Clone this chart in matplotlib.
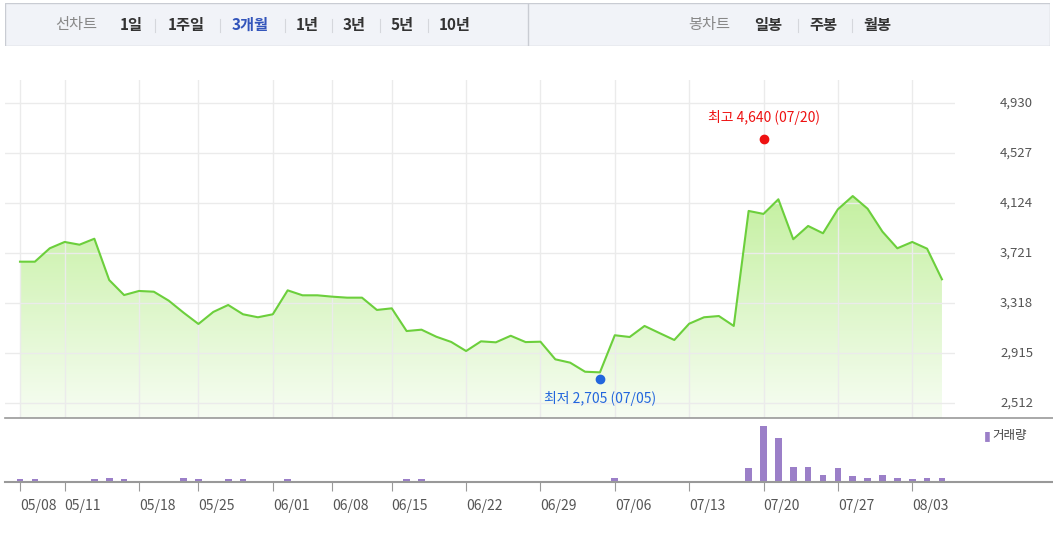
import matplotlib
matplotlib.use('Agg')
import matplotlib.pyplot as plt
import numpy as np
from matplotlib.patches import Rectangle, Polygon

plt.rcParams['font.family'] = ['Noto Sans CJK KR', 'DejaVu Sans']

# Close prices, one per trading day (05/08 .. 08/04)
prices = [3651, 3651, 3759, 3810, 3788, 3836, 3503, 3382, 3415, 3409,
          3337, 3240, 3149, 3246, 3302, 3227, 3203, 3227, 3420, 3380,
          3380, 3369, 3361, 3361, 3262, 3275, 3092, 3103, 3046, 3004,
          2931, 3009, 3001, 3054, 3003, 3006, 2864, 2837, 2764, 2759,
          3058, 3044, 3133, 3076, 3020, 3151, 3203, 3213, 3133, 4060,
          4036, 4154, 3832, 3939, 3880, 4073, 4180, 4078, 3893, 3759,
          3810, 3756, 3509]

# Volume (relative units), indexed by trading day
volume = [0] * len(prices)
vol_days = [0, 1, 5, 6, 7, 11, 12, 14, 15, 18, 26, 27, 40,
            49, 50, 51, 52, 53, 54, 55, 56, 57, 58, 59, 60, 61, 62]
vol_vals = [5, 5, 5, 10, 5, 10, 5, 5, 5, 5, 5, 5, 10,
            37, 162, 127, 42, 42, 19, 37, 15, 10, 19, 10, 5, 10, 10]
for d, v in zip(vol_days, vol_vals):
    volume[d] = v

tick_idx = [0, 3, 8, 12, 17, 21, 25, 30, 35, 40, 45, 50, 55, 60]
tick_labels = ['05/08', '05/11', '05/18', '05/25', '06/01', '06/08', '06/15',
               '06/22', '06/29', '07/06', '07/13', '07/20', '07/27', '08/03']
y_ticks = [2512, 2915, 3318, 3721, 4124, 4527, 4930]

high_idx, high_val = 50, 4640
low_idx, low_val = 39, 2705

W, H = 1053, 541
fig = plt.figure(figsize=(W / 100, H / 100), dpi=100)

def px(l, t, r, b):
    return [l / W, 1 - b / H, (r - l) / W, (b - t) / H]

# header bar
hdr = fig.add_axes(px(5, 3, 1050, 46))
hdr.set_xlim(5, 1050)
hdr.set_ylim(46, 3)
hdr.axis('off')
hdr.add_patch(Rectangle((5, 3), 1045, 43, fc='#f1f3f8', ec='#c9ccd3', lw=1))
hdr.plot([528, 528], [3, 46], color='#c9ccd3', lw=1)
items = [(55, '선차트', '#888888', 'normal'), (120, '1일', '#333333', 'bold'),
         (168, '1주일', '#333333', 'bold'), (232, '3개월', '#3355bb', 'bold'),
         (296, '1년', '#333333', 'bold'), (343, '3년', '#333333', 'bold'),
         (391, '5년', '#333333', 'bold'), (439, '10년', '#333333', 'bold'),
         (688, '봉차트', '#888888', 'normal'), (754, '일봉', '#333333', 'bold'),
         (809, '주봉', '#333333', 'bold'), (863, '월봉', '#333333', 'bold')]
for x, s, c, w in items:
    hdr.text(x, 25, s, color=c, fontsize=11, fontweight=w, va='center', ha='left')
for x in [155, 220, 285, 332, 380, 428, 798, 852]:
    hdr.plot([x, x], [19, 32], color='#d5d7dc', lw=0.8)

# price chart
x = np.arange(len(prices))
sc = 14.87
xl = (-15 / sc, (955 - 20) / sc)
ax = fig.add_axes(px(5, 80, 955, 418))
ylo = 2512 - 15 * 8.06
yhi = 4930 + 23 * 8.06
ax.set_xlim(*xl)
ax.set_ylim(ylo, yhi)
for s in ax.spines.values():
    s.set_visible(False)
ax.set_xticks(tick_idx)
ax.set_yticks(y_ticks)
ax.grid(True, color='#ebebeb', lw=1)
ax.tick_params(length=0, labelbottom=False, labelleft=False)

grad = np.linspace(0, 1, 256).reshape(-1, 1)
cmap = matplotlib.colors.LinearSegmentedColormap.from_list('g', ['#f7fdf3', '#c4f0a0'])
im = ax.imshow(grad, extent=[0, len(prices) - 1, ylo, 4200], origin='lower',
               aspect='auto', cmap=cmap, zorder=1)
poly = Polygon(list(zip(x, prices)) + [(len(prices) - 1, ylo), (0, ylo)],
               closed=True, transform=ax.transData)
im.set_clip_path(poly)
ax.plot(x, prices, color='#6ccf3c', lw=1.5, zorder=3)

ax.plot(high_idx, high_val, 'o', color='#ee1111', ms=6, zorder=4)
ax.text(high_idx, high_val + 110, '최고 4,640 (07/20)', color='#ee1111',
        fontsize=10, ha='center', va='bottom')
ax.plot(low_idx, low_val, 'o', color='#2266dd', ms=6, zorder=4)
ax.text(low_idx, low_val - 100, '최저 2,705 (07/05)', color='#2266dd',
        fontsize=10, ha='center', va='top')

# right-side price labels (x in pixels, y in data)
ytrans = matplotlib.transforms.blended_transform_factory(
    matplotlib.transforms.IdentityTransform(), ax.transData)
for v in y_ticks:
    ax.text(1033, v, format(v, ','), transform=ytrans,
            fontsize=9.5, color='#555555', ha='right', va='center')

# separator line between panels
fig.add_artist(plt.Line2D([5 / W, 1053 / W], [1 - 418 / H] * 2, color='#999999', lw=1.2))

# volume chart
vx = fig.add_axes(px(5, 418, 955, 481))
vx.set_xlim(*xl)
vx.set_ylim(0, 185)
for s in vx.spines.values():
    s.set_visible(False)
vx.bar(x, volume, width=0.45, color='#9b7fc8', zorder=3)
vx.set_xticks(tick_idx)
vx.set_xticklabels(tick_labels, fontsize=10, color='#555555', ha='left')
offset = matplotlib.transforms.ScaledTranslation(-2 / 100, 0, fig.dpi_scale_trans)
for lab in vx.get_xticklabels():
    lab.set_transform(lab.get_transform() + offset)
vx.tick_params(axis='x', length=7, color='#999999', pad=6)
vx.set_yticks([])
fig.add_artist(plt.Line2D([5 / W, 1053 / W], [1 - 482 / H] * 2, color='#999999', lw=1.5))
fig.text(984 / W, 1 - 436 / H, '▮', color='#9b7fc8', fontsize=9, va='center',
         family=['DejaVu Sans'])
fig.text(992 / W, 1 - 436 / H, '거래량', color='#444444', fontsize=9, va='center')

fig.savefig('out.png', dpi=100)
